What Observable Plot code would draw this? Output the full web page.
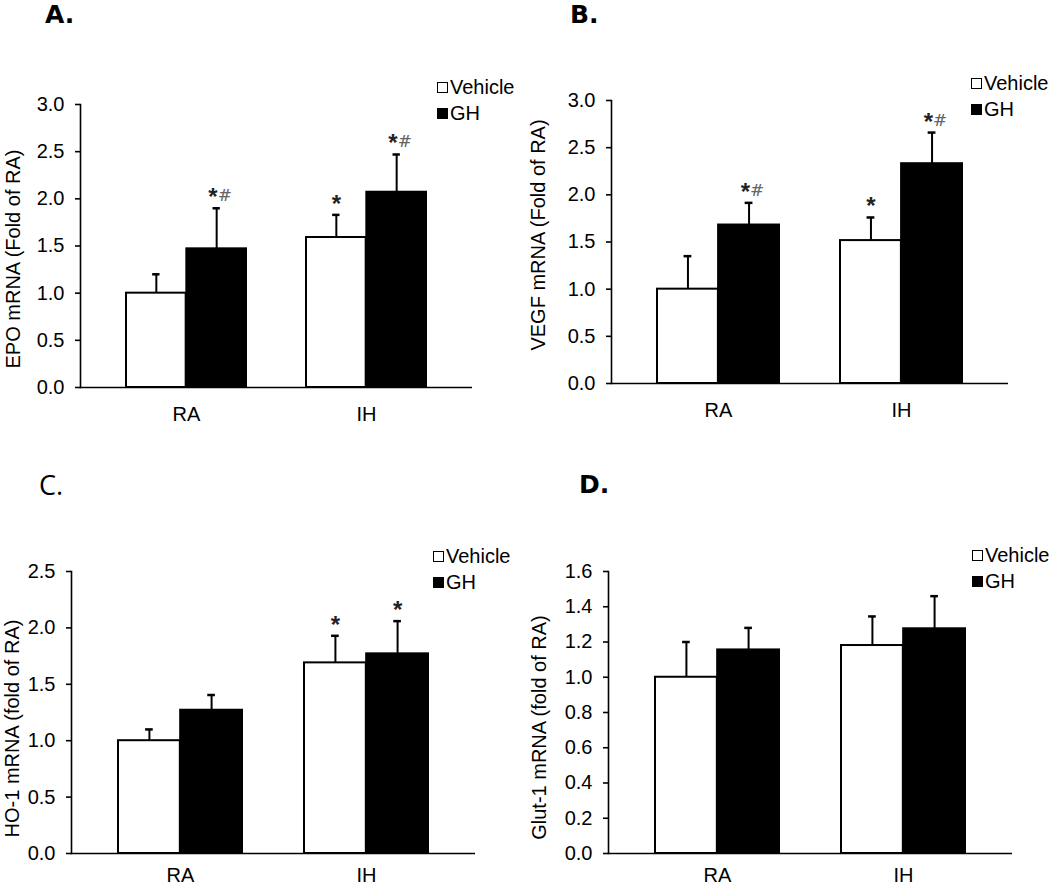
<!DOCTYPE html>
<html>
<head>
<meta charset="utf-8">
<script src="https://cdn.jsdelivr.net/npm/d3@7"></script>
<script src="https://cdn.jsdelivr.net/npm/@observablehq/plot@0.6"></script>
<style>
  body { margin: 0; background: #fff; }
  #root { position: relative; width: 1050px; height: 886px; overflow: hidden; background: #fff;
          font-family: "Liberation Sans", Arial, sans-serif; color: #000; }
  .panel { position: absolute; width: 525px; height: 443px; }
  .plabel { position: absolute; font-family: "DejaVu Sans", sans-serif; font-size: 25px; line-height: 25px; font-weight: bold; }
  .legend { position: absolute; font-size: 20px; }
  .legend .item { display: flex; align-items: center; height: 26px; white-space: nowrap; }
  .legend .sw { display: inline-block; box-sizing: border-box; width: 11px; height: 11px; border: 1.8px solid #000; margin-right: 2px; }
</style>
</head>
<body>
<div id="root"></div>
<script>
// ---------------- data ----------------
const groups = ["RA", "IH"];
const series = ["Vehicle", "GH"];
const panelLetters = ["A.", "B.", "C.", "D."];
const yLabels = ["EPO mRNA (Fold of RA)", "VEGF mRNA (Fold of RA)", "HO-1 mRNA (fold of RA)", "Glut-1 mRNA (fold of RA)"];

// tick labels
const ticksA = [0, 0.5, 1.0, 1.5, 2.0, 2.5, 3.0];
const ticksB = [0, 0.5, 1.0, 1.5, 2.0, 2.5, 3.0];
const ticksC = [0, 0.5, 1.0, 1.5, 2.0, 2.5];
const ticksD = [0, 0.2, 0.4, 0.6, 0.8, 1.0, 1.2, 1.4, 1.6];

// A. EPO
const epoVehicle = [1.00, 1.59];
const epoVehicleErr = [0.20, 0.24];
const epoGH = [1.47, 2.07];
const epoGHErr = [0.43, 0.40];
const epoVehicleSig = ["", "*"];
const epoGHSig = ["*#", "*#"];

// B. VEGF
const vegfVehicle = [1.00, 1.515];
const vegfVehicleErr = [0.35, 0.245];
const vegfGH = [1.68, 2.33];
const vegfGHErr = [0.235, 0.33];
const vegfVehicleSig = ["", "*"];
const vegfGHSig = ["*#", "*#"];

// C. HO-1
const hoVehicle = [1.00, 1.69];
const hoVehicleErr = [0.10, 0.24];
const hoGH = [1.27, 1.77];
const hoGHErr = [0.135, 0.29];
const hoVehicleSig = ["", "*"];
const hoGHSig = ["", "*"];

// D. Glut-1
const glutVehicle = [1.00, 1.18];
const glutVehicleErr = [0.20, 0.165];
const glutGH = [1.155, 1.275];
const glutGHErr = [0.125, 0.185];
const glutVehicleSig = ["", ""];
const glutGHSig = ["", ""];

// ---------------- layout ----------------
const panels = [
  { left: 0,   top: 0,   mL: 80,   mR: 53, mT: 104, mB: 56, ticks: ticksA, label: yLabels[0], lx: -67, ly: 13, xpad: 19,
    vals: [epoVehicle, epoGH], errs: [epoVehicleErr, epoGHErr], sig: [epoVehicleSig, epoGHSig],
    legend: [437, 74], plabel: [45, 2], bold: true },
  { left: 525, top: 0,   mL: 86,   mR: 42, mT: 100, mB: 60, ticks: ticksB, label: yLabels[1], lx: -73, ly: -7, xpad: 19,
    vals: [vegfVehicle, vegfGH], errs: [vegfVehicleErr, vegfGHErr], sig: [vegfVehicleSig, vegfGHSig],
    legend: [971, 70], plabel: [570, 2], bold: true },
  { left: 0,   top: 443, mL: 71,   mR: 50, mT: 128, mB: 33, ticks: ticksC, label: yLabels[2], lx: -59, ly: 16, xpad: 14,
    vals: [hoVehicle, hoGH], errs: [hoVehicleErr, hoGHErr], sig: [hoVehicleSig, hoGHSig],
    legend: [433, 543], plabel: [39, 472], bold: false },
  { left: 525, top: 443, mL: 83,   mR: 38, mT: 128, mB: 33, ticks: ticksD, label: yLabels[3], lx: -69, ly: 15, xpad: 14,
    vals: [glutVehicle, glutGH], errs: [glutVehicleErr, glutGHErr], sig: [glutVehicleSig, glutGHSig],
    legend: [972, 542], plabel: [579, 472], bold: true }
];

const root = document.getElementById("root");
const W = 525, H = 443;
const padIn = 0.333, padOut = 0.25;
const fmt = d3.format(".1f");

panels.forEach((p, k) => {
  const rows = [];
  series.forEach((s, si) => groups.forEach((g, gi) => {
    const sig = p.sig[si][gi];
    rows.push({ group: g, series: s, mean: p.vals[si][gi], top: p.vals[si][gi] + p.errs[si][gi],
                star: sig.includes("*") ? "*" : "", hash: sig.includes("#") ? "#" : "" });
  }));
  const veh = rows.filter(d => d.series === series[0]);
  const gh = rows.filter(d => d.series === series[1]);

  const xs = Plot.scale({ x: { type: "band", domain: groups, range: [p.mL, W - p.mR], paddingInner: padIn, paddingOuter: padOut } });
  const bw = xs.bandwidth;
  const cap = 4;

  const sigMarks = (data, off) => [
    Plot.text(data.filter(d => d.star && !d.hash), { x: "group", y: "top", text: "star", dx: off, dy: -3,
      textAnchor: "middle", lineAnchor: "bottom", fontSize: 24, fontWeight: "bold", fill: "#222" }),
    Plot.text(data.filter(d => d.star && d.hash), { x: "group", y: "top", text: "star", dx: off + 1, dy: -3,
      textAnchor: "end", lineAnchor: "bottom", fontSize: 24, fontWeight: "bold", fill: "#222" }),
    Plot.text(data.filter(d => d.hash), { x: "group", y: "top", text: "hash", dx: off + 1, dy: -7,
      textAnchor: "start", lineAnchor: "bottom", fontSize: 17, fontFamily: "DejaVu Serif, serif", fill: "#666" })
  ];

  const chart = Plot.plot({
    width: W, height: H,
    marginLeft: p.mL, marginRight: p.mR, marginTop: p.mT, marginBottom: p.mB,
    style: { fontFamily: "Liberation Sans, Arial, sans-serif", fontSize: "20px", color: "#000", background: "transparent", overflow: "visible" },
    x: { type: "band", domain: groups, paddingInner: padIn, paddingOuter: padOut, label: null },
    y: { domain: [p.ticks[0], p.ticks[p.ticks.length - 1]], label: null },
    marks: [
      Plot.barY(veh, { x: "group", y: "mean", fill: "white", stroke: "black", strokeWidth: 2, insetRight: bw / 2 }),
      Plot.barY(gh, { x: "group", y: "mean", fill: "black", stroke: "black", strokeWidth: 2, insetLeft: bw / 2 }),
      Plot.ruleX(veh, { x: "group", y1: "mean", y2: "top", dx: -bw / 4, stroke: "black", strokeWidth: 2 }),
      Plot.ruleX(gh, { x: "group", y1: "mean", y2: "top", dx: bw / 4, stroke: "black", strokeWidth: 2 }),
      Plot.tickY(veh, { x: "group", y: "top", insetLeft: bw / 4 - cap, insetRight: 3 * bw / 4 - cap, stroke: "black", strokeWidth: 2.5 }),
      Plot.tickY(gh, { x: "group", y: "top", insetLeft: 3 * bw / 4 - cap, insetRight: bw / 4 - cap, stroke: "black", strokeWidth: 2.5 }),
      Plot.ruleY([p.ticks[0]], { stroke: "black", strokeWidth: 1.6 }),
      Plot.frame({ anchor: "left", stroke: "black", strokeWidth: 1.6 }),
      Plot.axisY({ ticks: p.ticks, tickSize: 5, tickPadding: 11, tickFormat: fmt, label: null, stroke: "black", strokeWidth: 1.6 }),
      Plot.axisX({ tickSize: 0, tickPadding: p.xpad, label: null }),
      Plot.text([p.label], { frameAnchor: "left", rotate: -90, dx: p.lx, dy: p.ly, textAnchor: "middle", lineAnchor: "middle", fontSize: 20, fill: "black" }),
      ...sigMarks(veh, -bw / 4),
      ...sigMarks(gh, bw / 4)
    ]
  });

  const div = document.createElement("div");
  div.className = "panel";
  div.style.left = p.left + "px";
  div.style.top = p.top + "px";
  div.appendChild(chart);
  root.appendChild(div);

  // panel letter
  const pl = document.createElement("div");
  pl.className = "plabel";
  pl.textContent = panelLetters[k];
  pl.style.left = p.plabel[0] + "px";
  pl.style.top = p.plabel[1] + "px";
  if (!p.bold) { pl.style.fontWeight = "normal"; pl.style.fontFamily = "'Open Sans', sans-serif"; pl.style.fontSize = "27px"; }
  root.appendChild(pl);

  // legend
  const lg = document.createElement("div");
  lg.className = "legend";
  lg.style.left = p.legend[0] + "px";
  lg.style.top = p.legend[1] + "px";
  series.forEach((s, si) => {
    const it = document.createElement("div");
    it.className = "item";
    const sw = document.createElement("span");
    sw.className = "sw";
    sw.style.background = si === 0 ? "#fff" : "#000";
    const tx = document.createElement("span");
    tx.textContent = s;
    it.appendChild(sw); it.appendChild(tx);
    lg.appendChild(it);
  });
  root.appendChild(lg);
});
</script>
</body>
</html>
